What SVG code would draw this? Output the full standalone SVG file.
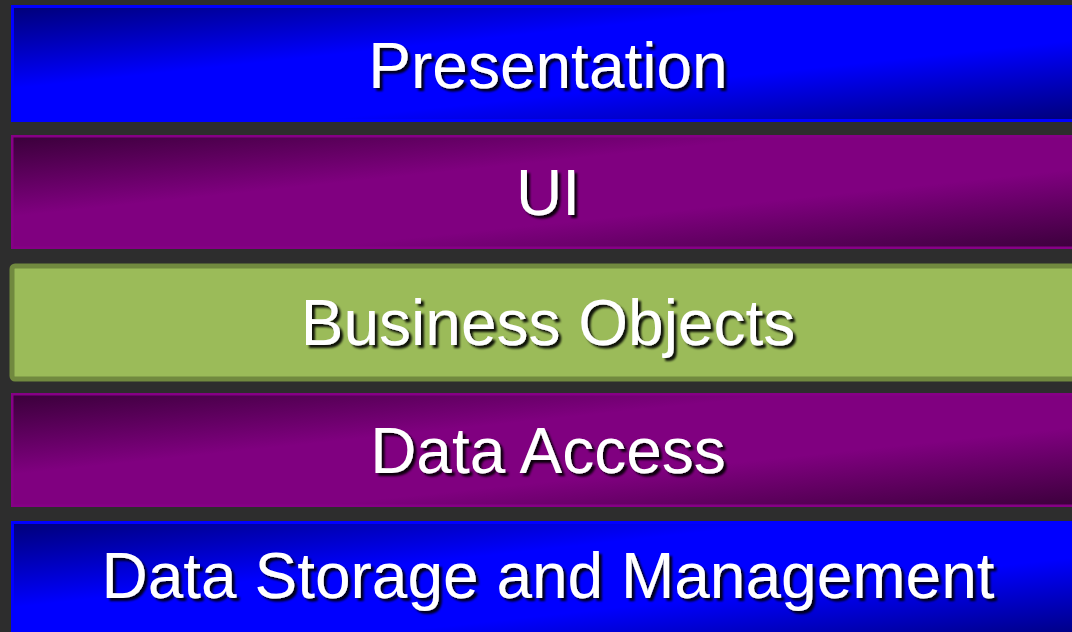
<svg xmlns="http://www.w3.org/2000/svg" width="1072" height="632" viewBox="0 0 1072 632">
  <defs>
    <linearGradient id="gBlue" x1="0" y1="0" x2="1" y2="1">
      <stop offset="0" stop-color="#000078"/>
      <stop offset="0.36" stop-color="#0000ff"/>
      <stop offset="0.64" stop-color="#0000ff"/>
      <stop offset="1" stop-color="#000078"/>
    </linearGradient>
    <linearGradient id="gPurple" x1="0" y1="0" x2="1" y2="1">
      <stop offset="0" stop-color="#3a003a"/>
      <stop offset="0.36" stop-color="#800080"/>
      <stop offset="0.64" stop-color="#800080"/>
      <stop offset="1" stop-color="#3a003a"/>
    </linearGradient>
    <filter id="shadow" x="-10%" y="-20%" width="120%" height="140%">
      <feGaussianBlur in="SourceAlpha" stdDeviation="1"/>
      <feOffset dx="3" dy="3" result="b"/>
      <feFlood flood-color="#000000" flood-opacity="0.9"/>
      <feComposite in2="b" operator="in" result="s"/>
      <feMerge>
        <feMergeNode in="s"/>
        <feMergeNode in="SourceGraphic"/>
      </feMerge>
    </filter>
  </defs>
  <style>
    .blue { fill: url(#gBlue); stroke: #0000ff; stroke-width: 3; }
    .purple { fill: url(#gPurple); stroke: #860086; stroke-width: 2.5; }
    .green { fill: #9bbb59; stroke: #71893f; stroke-width: 5; }
    .lbl { font-family: "Liberation Sans", Arial, sans-serif; font-size: 64px; fill: #ffffff; text-anchor: middle; filter: url(#shadow); }
  </style>
  <rect x="0" y="0" width="1072" height="632" fill="#2d2d2d"/>
  <g id="presentation">
    <rect class="blue" x="12.5" y="6.5" width="1080" height="114"/>
    <text class="lbl" x="548" y="88">Presentation</text>
  </g>
  <g id="ui">
    <rect class="purple" x="12.25" y="136.25" width="1080" height="111.5"/>
    <text class="lbl" x="548" y="215">UI</text>
  </g>
  <g id="business-objects">
    <rect class="green" x="12" y="266" width="1080" height="113" rx="3"/>
    <text class="lbl" x="548" y="345">Business Objects</text>
  </g>
  <g id="data-access">
    <rect class="purple" x="12.25" y="394.25" width="1080" height="111.5"/>
    <text class="lbl" x="548" y="473">Data Access</text>
  </g>
  <g id="data-storage">
    <rect class="blue" x="12.5" y="522.5" width="1080" height="118"/>
    <text class="lbl" x="548" y="598">Data Storage and Management</text>
  </g>
  <g id="connectors"/>
</svg>
